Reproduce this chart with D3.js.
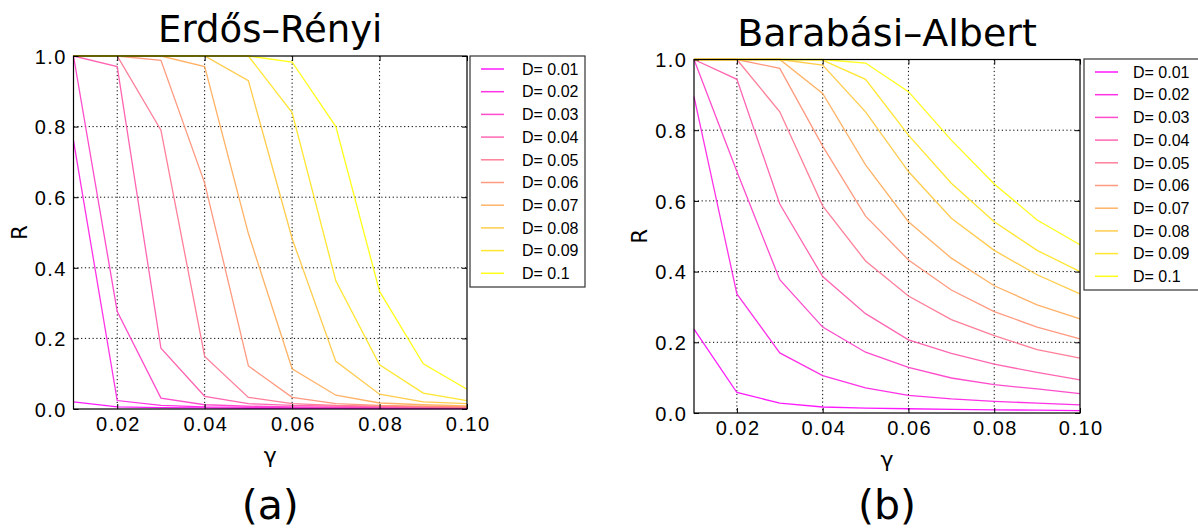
<!DOCTYPE html>
<html>
<head>
<meta charset="utf-8">
<script src="https://cdn.jsdelivr.net/npm/d3@7/dist/d3.min.js"></script>
<style>
  body { margin: 0; background: #fff; }
  svg { display: block; }
  .tick text { font-family: "Liberation Sans", Arial, sans-serif; font-size: 20px; letter-spacing: 1.5px; fill: #000; }
</style>
</head>
<body>
<svg id="chart" width="1198" height="532"></svg>
<script>
// gamma values on the x axis
const gammas = [0.01, 0.02, 0.03, 0.04, 0.05, 0.06, 0.07, 0.08, 0.09, 0.10];
const dLabels = ["0.01", "0.02", "0.03", "0.04", "0.05", "0.06", "0.07", "0.08", "0.09", "0.1"];
const xTicks = [0.02, 0.04, 0.06, 0.08, 0.10];
const yTicks = [0, 0.2, 0.4, 0.6, 0.8, 1.0];

// Erdős–Rényi, one row per D
const erValues = [
  [0.02, 0.006, 0.004, 0.003, 0.002, 0.002, 0.002, 0.001, 0.001, 0.001],
  [0.76, 0.024, 0.010, 0.006, 0.005, 0.004, 0.003, 0.003, 0.002, 0.002],
  [1.0, 0.276, 0.031, 0.012, 0.008, 0.006, 0.005, 0.004, 0.003, 0.003],
  [1.0, 0.97, 0.172, 0.036, 0.015, 0.010, 0.008, 0.006, 0.005, 0.004],
  [1.0, 1.0, 0.79, 0.149, 0.033, 0.015, 0.010, 0.008, 0.006, 0.005],
  [1.0, 1.0, 0.988, 0.64, 0.122, 0.033, 0.015, 0.010, 0.008, 0.006],
  [1.0, 1.0, 1.0, 0.97, 0.497, 0.114, 0.039, 0.017, 0.012, 0.009],
  [1.0, 1.0, 1.0, 1.0, 0.93, 0.483, 0.135, 0.042, 0.020, 0.015],
  [1.0, 1.0, 1.0, 1.0, 1.0, 0.84, 0.363, 0.125, 0.045, 0.024],
  [1.0, 1.0, 1.0, 1.0, 1.0, 0.983, 0.80, 0.333, 0.128, 0.056]
];

// Barabási–Albert
const baValues = [
  [0.237, 0.058, 0.028, 0.017, 0.014, 0.012, 0.010, 0.009, 0.008, 0.007],
  [0.895, 0.337, 0.170, 0.106, 0.071, 0.050, 0.040, 0.033, 0.028, 0.023],
  [1.0, 0.683, 0.377, 0.243, 0.172, 0.129, 0.099, 0.080, 0.068, 0.055],
  [1.0, 0.944, 0.591, 0.386, 0.281, 0.207, 0.169, 0.138, 0.115, 0.094],
  [1.0, 1.0, 0.852, 0.586, 0.430, 0.331, 0.264, 0.219, 0.179, 0.155],
  [1.0, 1.0, 0.975, 0.755, 0.557, 0.433, 0.348, 0.287, 0.243, 0.210],
  [1.0, 1.0, 1.0, 0.904, 0.702, 0.541, 0.438, 0.360, 0.306, 0.266],
  [1.0, 1.0, 1.0, 0.984, 0.852, 0.683, 0.551, 0.460, 0.391, 0.337],
  [1.0, 1.0, 1.0, 0.998, 0.944, 0.786, 0.650, 0.541, 0.460, 0.400],
  [1.0, 1.0, 1.0, 1.0, 0.990, 0.909, 0.772, 0.648, 0.546, 0.476]
];

// matplotlib "spring": magenta -> yellow
const spring = i => d3.rgb(255, Math.round(255 * i / 9), Math.round(255 * (1 - i / 9))).toString();

const svg = d3.select("#chart");

function drawPanel(cfg) {
  const x = d3.scaleLinear().domain([0.01, 0.10]).range([cfg.left, cfg.right]);
  const y = d3.scaleLinear().domain([0, 1]).range([cfg.bottom, cfg.top]);
  const g = svg.append("g");

  // dotted grid
  g.append("g").selectAll("line").data(xTicks.slice(0, -1)).join("line")
    .attr("x1", d => x(d)).attr("x2", d => x(d))
    .attr("y1", cfg.top).attr("y2", cfg.bottom)
    .attr("stroke", "#000").attr("stroke-width", 1).attr("stroke-dasharray", "1.2,2.6");
  g.append("g").selectAll("line").data(yTicks.slice(1, -1)).join("line")
    .attr("x1", cfg.left).attr("x2", cfg.right)
    .attr("y1", d => y(d)).attr("y2", d => y(d))
    .attr("stroke", "#000").attr("stroke-width", 1).attr("stroke-dasharray", "1.2,2.6");

  // curves
  const line = d3.line().x((d, i) => x(gammas[i])).y(d => y(d));
  g.append("g").selectAll("path").data(cfg.values).join("path")
    .attr("d", line)
    .attr("fill", "none")
    .attr("stroke", (d, i) => spring(i))
    .attr("stroke-opacity", 0.9)
    .attr("stroke-width", 1.3);

  // axes, ticks pointing inward
  const bottomAxis = g.append("g").attr("transform", `translate(0,${cfg.bottom})`)
    .call(d3.axisBottom(x).tickValues(xTicks).tickSize(-5).tickPadding(8).tickFormat(d3.format(".2f")));
  const leftAxis = g.append("g").attr("transform", `translate(${cfg.left},0)`)
    .call(d3.axisLeft(y).tickValues(yTicks).tickSize(-5).tickPadding(8).tickFormat(d3.format(".1f")));
  g.append("g").attr("transform", `translate(0,${cfg.top})`)
    .call(d3.axisTop(x).tickValues(xTicks).tickSize(-5).tickFormat(""));
  g.append("g").attr("transform", `translate(${cfg.right},0)`)
    .call(d3.axisRight(y).tickValues(yTicks).tickSize(-5).tickFormat(""));
  g.selectAll(".domain").remove();
  g.selectAll(".tick line").attr("stroke", "#000");
  bottomAxis.selectAll("text").attr("dy", "0.72em").attr("dx", 0.75);
  leftAxis.selectAll("text").attr("dy", "0.36em").attr("dx", 1.5);

  g.append("rect")
    .attr("x", cfg.left).attr("y", cfg.top)
    .attr("width", cfg.right - cfg.left).attr("height", cfg.bottom - cfg.top)
    .attr("fill", "none").attr("stroke", "#000").attr("stroke-width", 1.2);

  const cx = (cfg.left + cfg.right) / 2;
  g.append("text")
    .attr("x", cx).attr("y", cfg.top - 14)
    .attr("text-anchor", "middle")
    .style("font-family", "DejaVu Sans").style("font-size", cfg.titleSize)
    .text(cfg.title);
  g.append("text")
    .attr("x", cx).attr("y", cfg.bottom + 54)
    .attr("text-anchor", "middle")
    .style("font-family", "DejaVu Sans").style("font-size", "22px")
    .text("γ");
  g.append("text")
    .attr("transform", `translate(${cfg.left - 47},${(cfg.top + cfg.bottom) / 2}) rotate(-90)`)
    .attr("text-anchor", "middle")
    .style("font-family", "DejaVu Sans").style("font-size", "21px")
    .text("R");
  g.append("text")
    .attr("x", cx).attr("y", 519)
    .attr("text-anchor", "middle")
    .style("font-family", "DejaVu Sans").style("font-size", "41px")
    .text(cfg.tag);

  // legend
  const lg = g.append("g").attr("transform", `translate(${cfg.legX},${cfg.legY})`);
  lg.append("rect")
    .attr("width", cfg.legW).attr("height", 231)
    .attr("fill", "#fff").attr("stroke", "#333").attr("stroke-width", 1.2);
  const rows = lg.selectAll("g").data(dLabels).join("g")
    .attr("transform", (d, i) => `translate(0,${13 + i * 22.7})`);
  rows.append("line")
    .attr("x1", 11).attr("x2", 34)
    .attr("stroke", (d, i) => spring(i)).attr("stroke-opacity", 0.9).attr("stroke-width", 1.5);
  rows.append("text")
    .attr("x", cfg.legTextX).attr("dy", "0.36em")
    .style("font-family", "Liberation Sans, Arial, sans-serif").style("font-size", "16px")
    .text(d => "D= " + d);
}

drawPanel({
  title: "Erdős–Rényi", tag: "(a)", values: erValues, titleSize: "37px",
  left: 73.5, right: 467, top: 56, bottom: 409,
  legX: 470, legY: 56, legW: 115, legTextX: 52
});
drawPanel({
  title: "Barabási–Albert", tag: "(b)", values: baValues, titleSize: "38px",
  left: 694, right: 1080, top: 59.5, bottom: 413,
  legX: 1084, legY: 59, legW: 120, legTextX: 49
});
</script>
</body>
</html>
